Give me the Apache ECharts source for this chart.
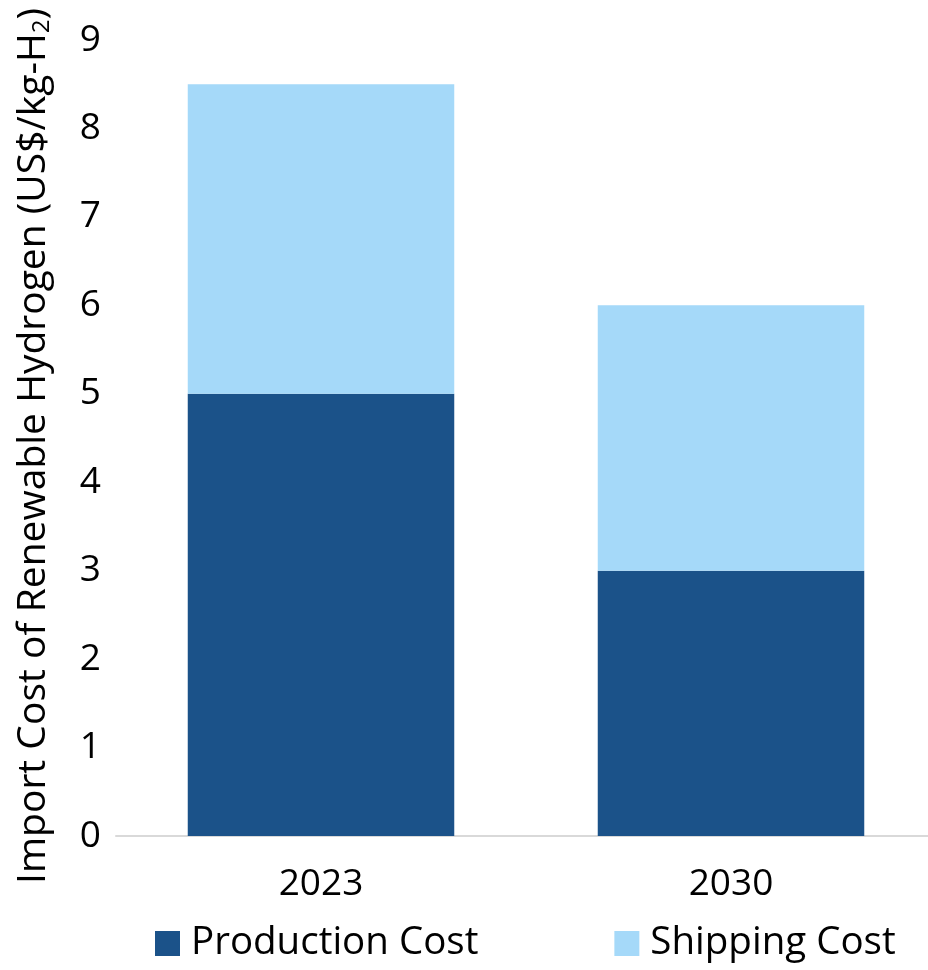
<!DOCTYPE html>
<html><head><meta charset="utf-8">
<script src="https://cdn.jsdelivr.net/npm/echarts@6/dist/echarts.min.js"></script>
<style>html,body{margin:0;padding:0;background:#fff}#c{width:928px;height:970px}</style>
</head><body><div id="c"></div>
<script>
const categories = ['2023', '2030'];
const productionCost = [5.0, 3.0];
const shippingCost = [3.5, 3.0];
const yTicks = [0, 1, 2, 3, 4, 5, 6, 7, 8, 9];

const FONT = '"Open Sans", "Noto Sans", sans-serif';
const chart = echarts.init(document.getElementById('c'), null, {renderer: 'canvas'});
chart.setOption({
  animation: false,
  backgroundColor: '#ffffff',
  textStyle: {fontFamily: FONT},
  grid: {left: 116, width: 820, top: 40, bottom: 134, containLabel: false, outerBoundsMode: 'none'},
  legend: {
    bottom: 2, left: 150, itemGap: 136, itemWidth: 25, itemHeight: 25,
    icon: 'rect',
    textStyle: {fontSize: 38.5, color: '#000', fontFamily: FONT, padding: [0, 0, 0, 6]},
    data: ['Production Cost', 'Shipping Cost']
  },
  xAxis: {
    type: 'category', data: categories,
    axisLine: {lineStyle: {color: '#d9d9d9', width: 2}},
    axisTick: {show: false},
    axisLabel: {fontSize: 37, color: '#000', margin: 30, fontFamily: FONT}
  },
  yAxis: {
    type: 'value', min: yTicks[0], max: yTicks[yTicks.length - 1], interval: 1,
    name: 'Import Cost of Renewable Hydrogen (US$/kg-H{sub|2})',
    nameLocation: 'middle', nameGap: 62, nameRotate: 90,
    nameTextStyle: {fontSize: 39, color: '#000', fontFamily: FONT, padding: [0, 16, 0, 0],
      rich: {sub: {fontSize: 24, color: '#000', fontFamily: FONT, padding: [16, 0, 0, 0]}}},
    splitLine: {show: false},
    axisLine: {show: false}, axisTick: {show: false},
    axisLabel: {fontSize: 37, color: '#000', margin: 15, fontFamily: FONT}
  },
  series: [
    {name: 'Production Cost', type: 'bar', stack: 'total', data: productionCost,
     barWidth: '65%', itemStyle: {color: '#1b5289'}},
    {name: 'Shipping Cost', type: 'bar', stack: 'total', data: shippingCost,
     barWidth: '65%', itemStyle: {color: '#a5d9f9'}}
  ]
});
</script></body></html>
